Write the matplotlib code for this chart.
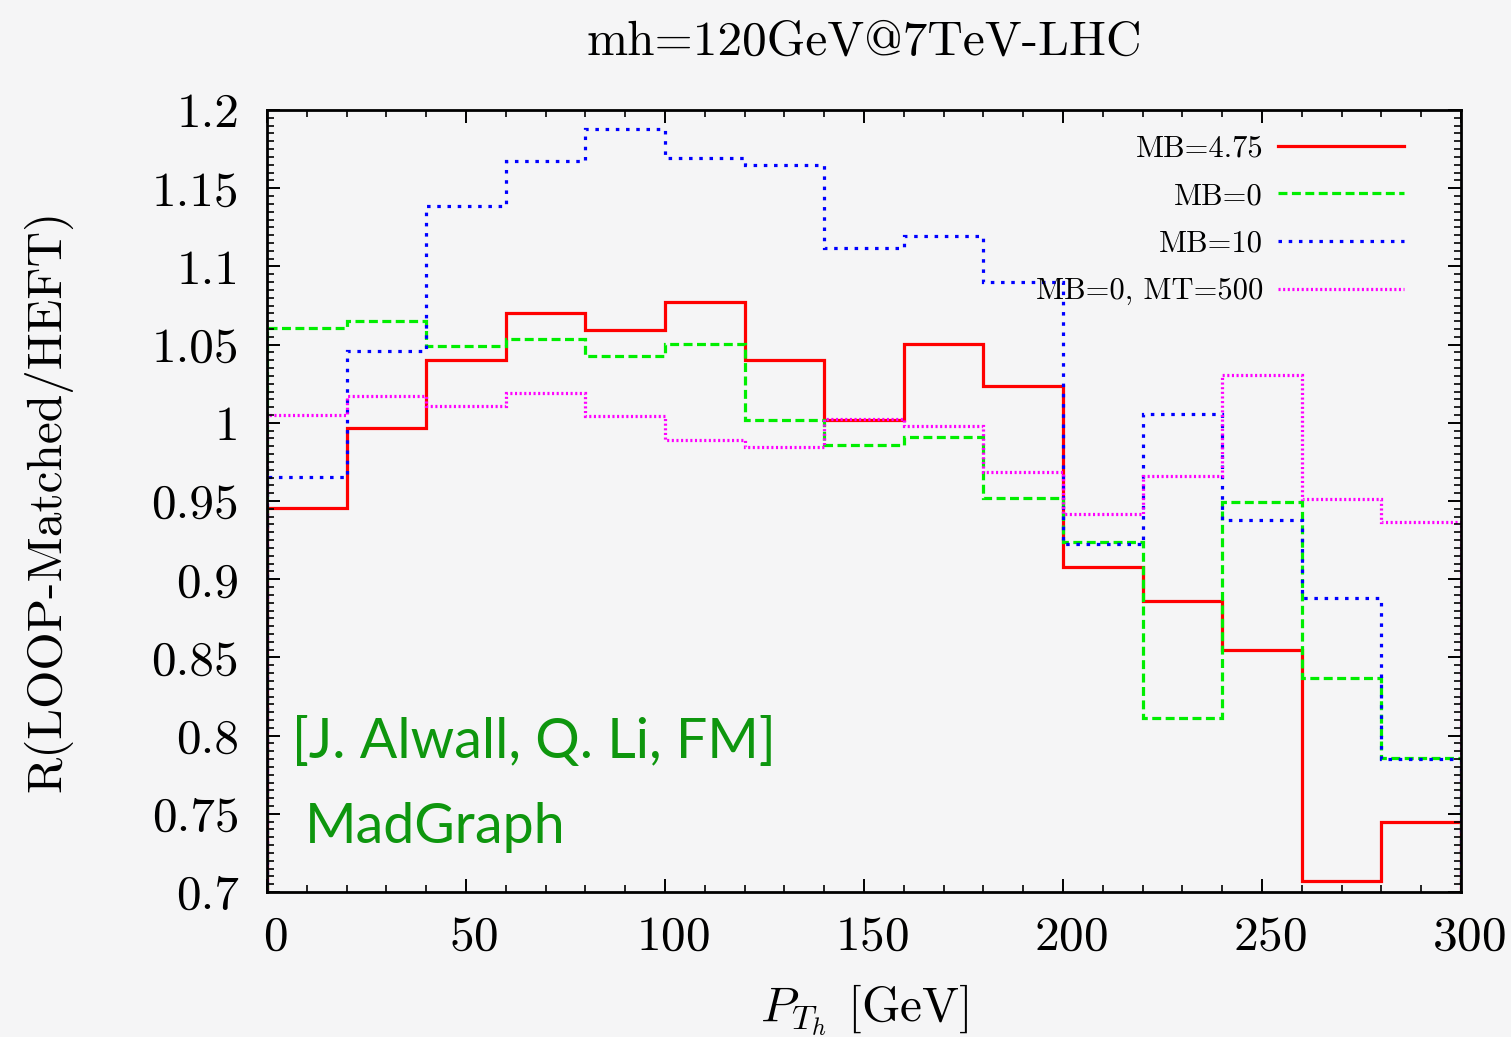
import numpy as np
import matplotlib
matplotlib.use("Agg")
import matplotlib.pyplot as plt
from matplotlib.ticker import MultipleLocator, FuncFormatter
from matplotlib.transforms import ScaledTranslation

# ratio LOOP-matched / HEFT in 20 GeV bins of the Higgs pT
edges = np.arange(0, 301, 20)
r_mb475 = [0.9455, 0.997, 1.040, 1.070, 1.0596, 1.077, 1.0404, 1.002,
           1.0504, 1.0236, 0.908, 0.886, 0.855, 0.707, 0.745]
r_mb0 = [1.0606, 1.065, 1.0494, 1.0536, 1.0426, 1.0504, 1.002, 0.986,
         0.991, 0.9517, 0.924, 0.811, 0.9496, 0.8366, 0.786]
r_mb10 = [0.9655, 1.046, 1.1387, 1.1677, 1.188, 1.1696, 1.1647, 1.1117,
          1.1196, 1.090, 0.9225, 1.0056, 0.938, 0.888, 0.785]
r_mb0_mt500 = [1.0051, 1.017, 1.0106, 1.0191, 1.0043, 0.9889, 0.9845, 1.0026,
               0.9979, 0.9687, 0.942, 0.966, 1.0306, 0.9513, 0.9368]

labels = ["MB=4.75", "MB=0", "MB=10", "MB=0, MT=500"]

BG = "#f5f5f6"
plt.rcParams.update({
    "font.family": ["cmr10", "DejaVu Serif"],
    "mathtext.fontset": "cm",
    "axes.formatter.use_mathtext": True,
    "axes.linewidth": 2.0,
    "xtick.direction": "in",
    "ytick.direction": "in",
    "xtick.top": True,
    "ytick.right": True,
    "xtick.major.size": 9.5,
    "ytick.major.size": 9.5,
    "xtick.minor.size": 5.0,
    "ytick.minor.size": 5.0,
    "xtick.major.width": 1.4,
    "ytick.major.width": 1.4,
    "xtick.minor.width": 1.2,
    "ytick.minor.width": 1.2,
})

fig = plt.figure(figsize=(15.11, 10.37), dpi=100, facecolor=BG)
ax = fig.add_axes([0.1767, 0.1398, 0.7902, 0.7541], facecolor=BG)

lw = 2.3
styles = [
    dict(color="#ff0000", linestyle="-"),
    dict(color="#00ee00", linestyle=(0, (2.8, 1.4))),
    dict(color="#0000ff", linestyle=(0, (1.1, 2.1))),
    dict(color="#ff00ff", linestyle=(0, (0.65, 0.8))),
]
series = [r_mb475, r_mb0, r_mb10, r_mb0_mt500]

handles = []
for vals, st in zip(series, styles):
    ax.stairs(vals, edges, lw=lw, **st)
    handles.append(plt.Line2D([], [], lw=lw, **st))

ax.set_xlim(0, 300)
ax.set_ylim(0.7, 1.2)
ax.xaxis.set_major_locator(MultipleLocator(50))
ax.xaxis.set_minor_locator(MultipleLocator(10))
ax.yaxis.set_major_locator(MultipleLocator(0.05))
ax.yaxis.set_minor_locator(MultipleLocator(0.005))
ax.yaxis.set_major_formatter(FuncFormatter(lambda v, p: f"{v:g}"))
ax.tick_params(axis="both", which="major", labelsize=35.5)
ax.tick_params(axis="x", pad=17)
ax.tick_params(axis="y", pad=20)

# x tick labels sit a little right of their ticks
shift = ScaledTranslation(8 / 100, 0, fig.dpi_scale_trans)
for lab in ax.get_xticklabels():
    lab.set_transform(lab.get_transform() + shift)

ax.set_title("mh=120GeV@7TeV-LHC", fontsize=35.5, pad=40)
ax.set_ylabel("R(LOOP-Matched/HEFT)", fontsize=35.5, labelpad=57)
ax.set_xlabel(r"$P_{T_h}$ [GeV]", fontsize=35.5, labelpad=16)

ax.legend(handles, labels, loc="upper right", bbox_to_anchor=(0.952, 0.968),
          frameon=False, markerfirst=False, fontsize=22, handlelength=4.1,
          handletextpad=0.5, borderaxespad=0, borderpad=0, labelspacing=0.66)

ax.text(6.3, 0.7857, "[J. Alwall, Q. Li, FM]", family="Lato", fontsize=40,
        color="#0e960e", va="baseline")
ax.text(9.5, 0.7313, "MadGraph", family="Lato", fontsize=40,
        color="#0e960e", va="baseline")

fig.savefig("out.png", dpi=100, facecolor=BG)
